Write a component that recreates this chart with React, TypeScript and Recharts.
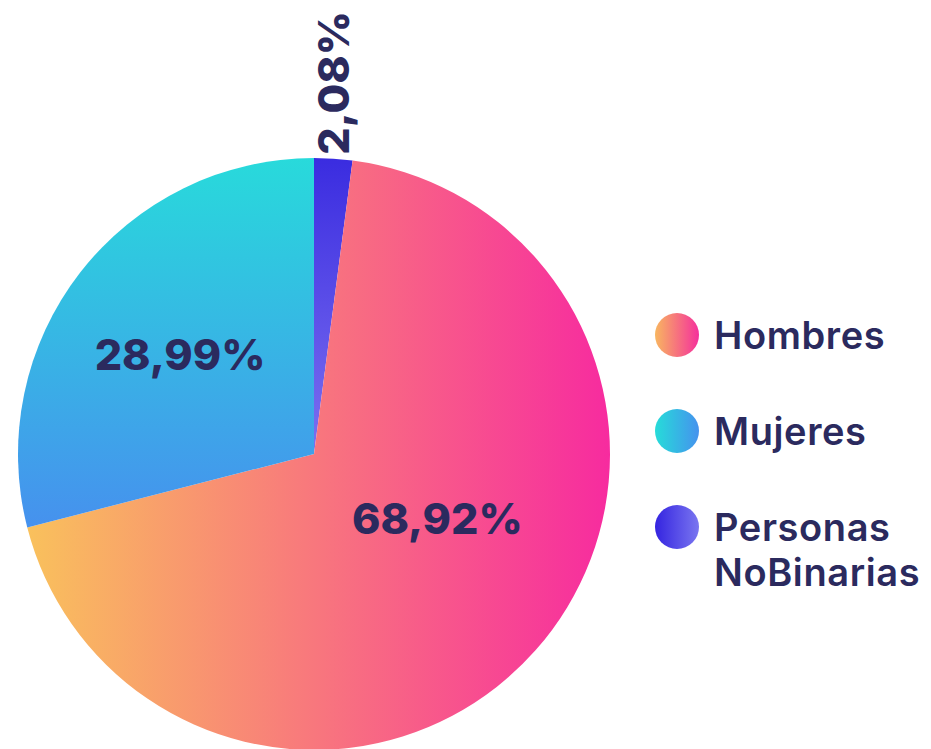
import React from 'react';
import { PieChart, Pie, Cell, Legend } from 'recharts';

const categories = ['Personas NoBinarias', 'Hombres', 'Mujeres'];
const shares = [2.08, 68.92, 28.99];
const labels = ['2,08%', '68,92%', '28,99%'];
const legendOrder = ['Hombres', 'Mujeres', 'Personas NoBinarias'];

const data = categories.map((name, i) => ({ name, value: shares[i], label: labels[i] }));

const TEXT = '#2b2a5e';
const FONT = 'Inter, "Noto Sans", sans-serif';

// slice fill gradients
const grads: Record<string, { id: string; from: string; to: string; vertical: boolean }> = {
  Hombres: { id: 'gH', from: '#f9c15c', to: '#f72b9f', vertical: false },
  Mujeres: { id: 'gM', from: '#28dadb', to: '#4691ee', vertical: true },
  'Personas NoBinarias': { id: 'gN', from: '#3a2ce0', to: '#7c70f0', vertical: true },
};
const legendGrads: Record<string, { id: string; from: string; to: string }> = {
  Hombres: { id: 'lH', from: '#f8b660', to: '#f5309c' },
  Mujeres: { id: 'lM', from: '#26dcd9', to: '#4592ee' },
  'Personas NoBinarias': { id: 'lN', from: '#3424e0', to: '#7a76f0' },
};

const RAD = Math.PI / 180;

const renderLabel = (props: any) => {
  const { cx, cy, midAngle, outerRadius, payload, index } = props;
  const name = payload?.name ?? categories[index];
  if (name === 'Personas NoBinarias') {
    const r = outerRadius * 1.26;
    const x = cx + r * Math.cos(-midAngle * RAD) - 5;
    const y = cy + r * Math.sin(-midAngle * RAD) + 1;
    return (
      <text x={x} y={y} fill={TEXT} fontFamily={FONT} fontWeight={800} fontSize={43}
        textAnchor="middle" dominantBaseline="central" transform={`rotate(-90 ${x} ${y})`}>
        {labels[index]}
      </text>
    );
  }
  const shift = name === 'Hombres' ? 14 : 1;
  const factor = name === 'Hombres' ? 0.47 : 0.565;
  const a = midAngle + shift;
  const x = cx + outerRadius * factor * Math.cos(-a * RAD);
  const y = cy + outerRadius * factor * Math.sin(-a * RAD);
  return (
    <text x={x} y={y} fill={TEXT} fontFamily={FONT} fontWeight={800} fontSize={43}
      textAnchor="middle" dominantBaseline="central">
      {labels[index]}
    </text>
  );
};

const LegendContent = () => (
  <div style={{ fontFamily: FONT, color: TEXT, fontWeight: 600, fontSize: 38, letterSpacing: 0.6 }}>
    {legendOrder.map((name) => {
      const g = legendGrads[name];
      const words = name.split(' ');
      return (
        <div key={name} style={{ display: 'flex', alignItems: 'flex-start', marginBottom: 51 }}>
          <svg width={46} height={46} style={{ marginRight: 14, flexShrink: 0, marginTop: -1 }}>
            <defs>
              <linearGradient id={g.id} x1="0" y1="0" x2="1" y2="0">
                <stop offset="0%" stopColor={g.from} />
                <stop offset="100%" stopColor={g.to} />
              </linearGradient>
            </defs>
            <circle cx={23} cy={23} r={22} fill={`url(#${g.id})`} />
          </svg>
          <div style={{ lineHeight: '45px' }}>
            {words.map((w) => (
              <div key={w}>{w}</div>
            ))}
          </div>
        </div>
      );
    })}
  </div>
);

export default function App() {
  return (
    <div style={{ position: 'absolute', left: 0, top: 0, width: 931, height: 749, background: '#fff', overflow: 'hidden' }}>
      <PieChart width={931} height={749} margin={{ top: 0, right: 0, bottom: 0, left: 0 }}>
        <defs>
          {Object.values(grads).map((g) => (
            <linearGradient key={g.id} id={g.id} x1="0" y1="0" x2={g.vertical ? '0' : '1'} y2={g.vertical ? '1' : '0'}>
              <stop offset="0%" stopColor={g.from} />
              <stop offset="100%" stopColor={g.to} />
            </linearGradient>
          ))}
        </defs>
        <Pie
          data={data}
          dataKey="value"
          nameKey="name"
          cx={314}
          cy={454}
          outerRadius={296}
          startAngle={90}
          endAngle={-270}
          stroke="none"
          labelLine={false}
          label={renderLabel}
          isAnimationActive={false}
        >
          {data.map((d) => (
            <Cell key={d.name} fill={`url(#${grads[d.name].id})`} />
          ))}
        </Pie>
        <Legend
          layout="vertical"
          content={<LegendContent />}
          wrapperStyle={{ position: 'absolute', left: 654, top: 313, width: 280 }}
        />
      </PieChart>
    </div>
  );
}
